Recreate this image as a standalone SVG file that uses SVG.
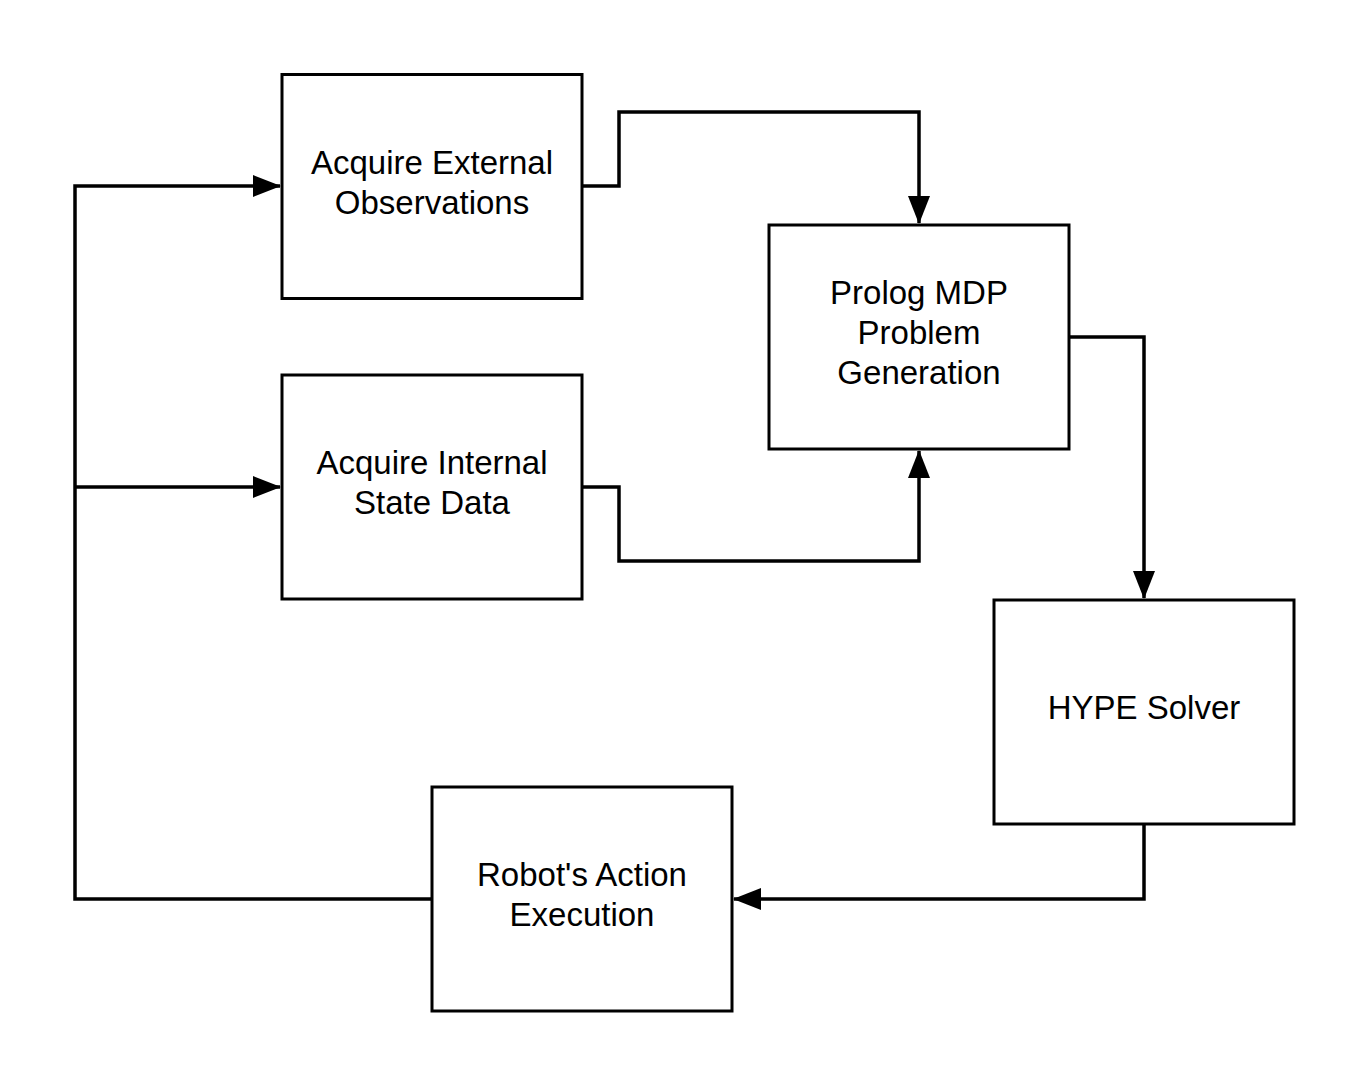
<svg xmlns="http://www.w3.org/2000/svg" width="1369" height="1088" viewBox="0 0 1369 1088">
<style>
.box{fill:#fff;stroke:#000;stroke-width:3}
.lbl{font-family:"Liberation Sans",Arial,sans-serif;font-size:33px;fill:#000;text-anchor:middle}
.edge{fill:none;stroke:#000;stroke-width:3.5}
</style>
<defs>
<marker id="ah" markerWidth="28" markerHeight="22" refX="27" refY="11" orient="auto" markerUnits="userSpaceOnUse">
<path d="M0,0 L28,11 L0,22 Z" fill="#000"/>
</marker>
</defs>
<rect width="1369" height="1088" fill="#fff"/>
<g id="connectors">
<path class="edge" d="M582,186 H619 V112 H919 V223" marker-end="url(#ah)"/>
<path class="edge" d="M582,487 H619 V561 H919 V451" marker-end="url(#ah)"/>
<path class="edge" d="M1069,337 H1144 V598" marker-end="url(#ah)"/>
<path class="edge" d="M1144,824 V899 H734" marker-end="url(#ah)"/>
<path class="edge" d="M432,899 H75 V186 H280" marker-end="url(#ah)"/>
<path class="edge" d="M75,487 H280" marker-end="url(#ah)"/>
</g>
<g id="acquire-external">
<rect class="box" x="282" y="74.5" width="300" height="224"/>
<text class="lbl" x="432" y="174">Acquire External</text>
<text class="lbl" x="432" y="214">Observations</text>
</g>
<g id="acquire-internal">
<rect class="box" x="282" y="375" width="300" height="224"/>
<text class="lbl" x="432" y="474">Acquire Internal</text>
<text class="lbl" x="432" y="514">State Data</text>
</g>
<g id="prolog">
<rect class="box" x="769" y="225" width="300" height="224"/>
<text class="lbl" x="919" y="304">Prolog MDP</text>
<text class="lbl" x="919" y="344">Problem</text>
<text class="lbl" x="919" y="384">Generation</text>
</g>
<g id="hype">
<rect class="box" x="994" y="600" width="300" height="224"/>
<text class="lbl" x="1144" y="719">HYPE Solver</text>
</g>
<g id="robot">
<rect class="box" x="432" y="787" width="300" height="224"/>
<text class="lbl" x="582" y="886">Robot's Action</text>
<text class="lbl" x="582" y="926">Execution</text>
</g>
</svg>
